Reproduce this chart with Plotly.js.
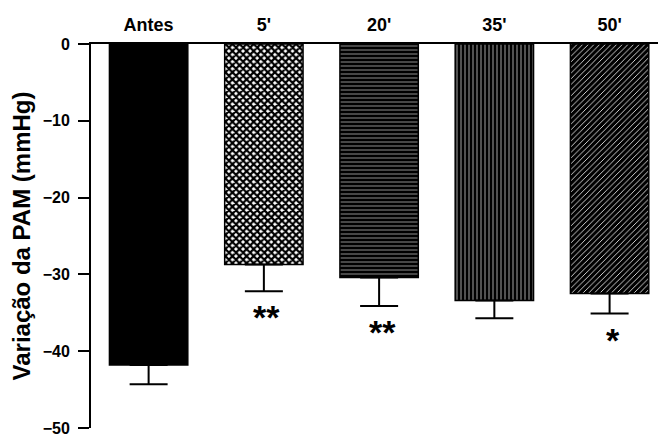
<!DOCTYPE html>
<html>
<head>
<meta charset="utf-8">
<script src="https://cdn.plot.ly/plotly-3.0.1.min.js"></script>
<style>html,body{margin:0;padding:0;background:#fff;}</style>
</head>
<body>
<div id="chart" style="width:658px;height:439px;"></div>
<script>
const categories = ["Antes", "5'", "20'", "35'", "50'"];
const means = [-41.8, -28.7, -30.4, -33.4, -32.5];
const sem = [2.5, 3.5, 3.7, 2.3, 2.6];
const significance = ["", "**", "**", "", "*"];

const patternShapes = ["", "x", "-", "|", "/"];
const patternBg = ["black", "white", "black", "black", "black"];
const patternFg = ["black", "black", "white", "white", "white"];
const patternSize = [6, 5, 4, 4, 4];
const patternSolidity = [0.3, 0.7, 0.14, 0.16, 0.2];

const font = {family: "Liberation Sans, Arial, sans-serif", color: "black", weight: 700};

const trace = {
  type: "bar",
  x: categories,
  y: means,
  width: 0.68,
  marker: {
    color: "black",
    line: {color: "black", width: 1.5},
    pattern: {
      shape: patternShapes,
      bgcolor: patternBg,
      fgcolor: patternFg,
      size: patternSize,
      solidity: patternSolidity,
      fillmode: "replace"
    }
  },
  error_y: {
    type: "data",
    symmetric: false,
    array: means.map(() => 0),
    arrayminus: sem,
    color: "black",
    thickness: 2,
    width: 19
  },
  hoverinfo: "skip"
};

const annotations = categories.map((c, i) => ({
  x: c,
  y: means[i] - sem[i],
  xref: "x",
  yref: "y",
  text: significance[i],
  showarrow: false,
  yanchor: "top",
  yshift: -5,
  xshift: 3,
  font: {family: "Liberation Sans, Arial, sans-serif", size: 34, color: "black", weight: 700}
})).filter(a => a.text);

const layout = {
  width: 658,
  height: 439,
  margin: {l: 91, r: 0, t: 44, b: 11},
  paper_bgcolor: "white",
  plot_bgcolor: "white",
  showlegend: false,
  xaxis: {
    side: "top",
    type: "category",
    range: [-0.5, 4.42],
    showline: true,
    linecolor: "black",
    linewidth: 2,
    ticks: "",
    showgrid: false,
    zeroline: false,
    tickfont: Object.assign({size: 18}, font),
    ticklabelstandoff: 4
  },
  yaxis: {
    range: [-50, 0],
    dtick: 10,
    showline: true,
    linecolor: "black",
    linewidth: 2,
    ticks: "outside",
    ticklen: 11,
    tickwidth: 2,
    tickcolor: "black",
    showgrid: false,
    zeroline: false,
    tickfont: Object.assign({size: 16}, font),
    ticklabelstandoff: 5,
    title: {
      text: "Variação da PAM (mmHg)",
      font: Object.assign({size: 24}, font),
      standoff: 5
    }
  },
  annotations: annotations
};

Plotly.newPlot("chart", [trace], layout, {displayModeBar: false, staticPlot: true});
</script>
</body>
</html>
